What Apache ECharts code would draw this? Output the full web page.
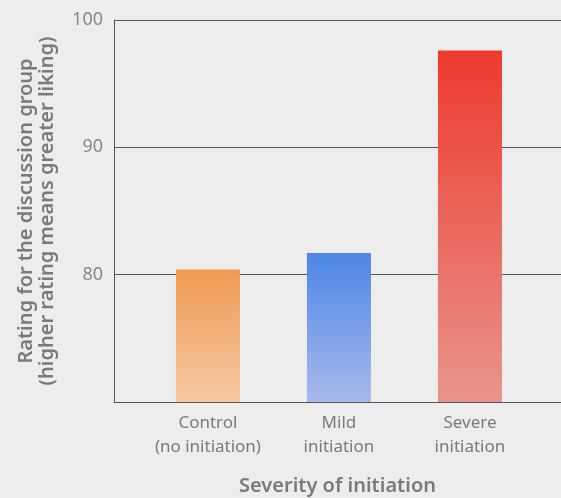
<!DOCTYPE html>
<html>
<head>
<meta charset="utf-8">
<script src="https://cdn.jsdelivr.net/npm/echarts@6/dist/echarts.min.js"></script>
<style>
    html, body { margin: 0; padding: 0; background: #eeedee; }
    #chart { width: 561px; height: 498px; }
</style>
</head>
<body>
<div id="chart"></div>
<script>
    // categories sit at x = 1, 2, 3 on a value axis so the frame can run wider than the bars
    const categories = ['Control\n(no initiation)', 'Mild\ninitiation', 'Severe\ninitiation'];
    const positions = [1, 2, 3];
    const ratings = [80.4, 81.7, 97.6];
    const yTicks = [80, 90, 100];
    const barTop = ['#f09a52', '#4c86e6', '#ee3a2e'];
    const barBottom = ['#f5c9a4', '#a9b9ec', '#e8958c'];

    const chart = echarts.init(document.getElementById('chart'));
    chart.setOption({
        backgroundColor: '#eeedee',
        textStyle: {fontFamily: 'Noto Sans'},
        grid: {left: 114, right: 0, top: 20, bottom: 96, outerBoundsMode: 'none'},
        xAxis: {
            type: 'value',
            min: 0.283,
            max: 3.695,
            name: 'Severity of initiation',
            nameLocation: 'middle',
            nameGap: 74,
            nameTextStyle: {fontSize: 20, fontWeight: 600, color: '#7a7a7a'},
            axisLine: {show: true, lineStyle: {color: '#555', width: 1}},
            axisTick: {show: false},
            splitLine: {show: false},
            axisLabel: {
                customValues: positions,
                formatter: v => categories[positions.indexOf(v)] || '',
                fontSize: 17,
                lineHeight: 24,
                color: '#7a7a7a',
                margin: 9
            }
        },
        yAxis: {
            type: 'value',
            min: 70,
            max: 100,
            interval: 10,
            name: 'Rating for the discussion group\n(higher rating means greater liking)',
            nameLocation: 'middle',
            nameRotate: 90,
            nameGap: 56,
            nameTextStyle: {fontSize: 20, fontWeight: 600, color: '#7a7a7a', lineHeight: 21},
            axisLine: {show: true, lineStyle: {color: '#555', width: 1}},
            axisTick: {show: false},
            axisLabel: {
                fontSize: 18,
                color: '#888',
                margin: 11,
                formatter: v => yTicks.includes(v) ? String(v) : ''
            },
            splitLine: {lineStyle: {color: '#555', width: 1}}
        },
        series: [{
            type: 'bar',
            barWidth: 64,
            data: ratings.map((r, i) => ({
                value: [positions[i], r],
                itemStyle: {
                    color: new echarts.graphic.LinearGradient(0, 0, 0, 1, [
                        {offset: 0, color: barTop[i]},
                        {offset: 1, color: barBottom[i]}
                    ])
                }
            }))
        }]
    });
</script>
</body>
</html>
